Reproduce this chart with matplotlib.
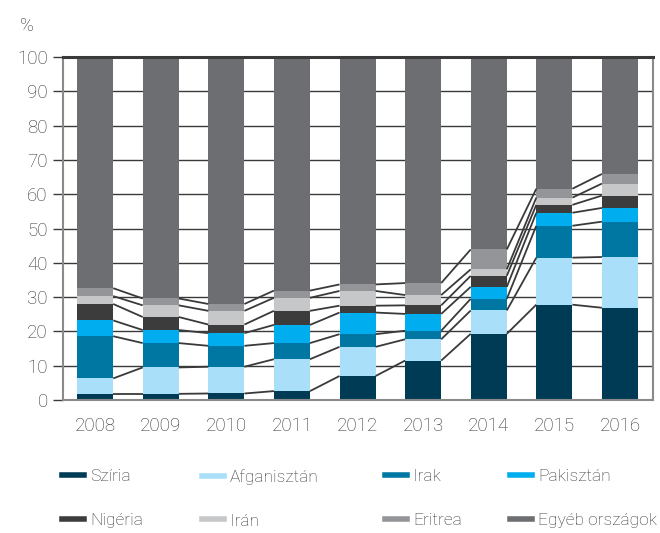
import numpy as np
import matplotlib
matplotlib.use("Agg")
import matplotlib.pyplot as plt
from matplotlib.lines import Line2D

plt.rcParams['font.family'] = ['Roboto', 'DejaVu Sans']

# ==============================================================================
# DATA (share in %, per country)
# ==============================================================================
years = ['2008', '2009', '2010', '2011', '2012', '2013', '2014', '2015', '2016']
countries = ['Szíria', 'Afganisztán', 'Irak', 'Pakisztán',
             'Nigéria', 'Irán', 'Eritrea', 'Egyéb országok']

sziria      = [1.8, 1.8, 1.9, 2.6, 7.0, 11.5, 19.3, 27.8, 26.9]
afganisztan = [4.5, 7.7, 7.8, 9.3, 8.5, 6.2, 6.8, 13.7, 14.8]
irak        = [12.3, 7.1, 6.1, 4.7, 3.7, 2.5, 3.4, 9.3, 10.3]
pakisztan   = [4.6, 3.8, 3.7, 5.3, 6.3, 4.9, 3.5, 3.8, 4.0]
nigeria     = [4.8, 3.8, 2.5, 4.1, 2.0, 2.5, 3.2, 2.3, 3.6]
iran        = [2.3, 3.4, 4.0, 3.8, 4.3, 3.0, 1.9, 2.1, 3.5]
eritrea     = [2.3, 2.0, 2.0, 2.1, 1.9, 3.5, 5.8, 2.6, 2.8]
egyeb       = [67.4, 70.4, 72.0, 68.1, 66.3, 65.9, 56.1, 38.4, 34.1]

colors = ['#003b55', '#a9dff8', '#0077a3', '#00aeef',
          '#3c3c3c', '#c6c7c8', '#939598', '#6d6e71']

series = [sziria, afganisztan, irak, pakisztan, nigeria, iran, eritrea, egyeb]
TXT = '#333333'

fig = plt.figure(figsize=(6.6, 5.33), dpi=100)
ax = fig.add_axes([0.0955, 0.2495, 0.8935, 0.6435])

x = np.arange(len(years))
width = 0.55
bottom = np.zeros(len(years))
tops = []
for vals, col, lab in zip(series, colors, countries):
    vals = np.array(vals)
    ax.bar(x, vals, width, bottom=bottom, color=col, label=lab, zorder=2,
           edgecolor='none')
    bottom = bottom + vals
    tops.append(bottom.copy())

# connecting lines between segment tops
for t in tops[:-1]:
    for i in range(len(years) - 1):
        ax.plot([x[i] + width / 2, x[i + 1] - width / 2], [t[i], t[i + 1]],
                color='#3a3a3a', lw=1.3, zorder=3, solid_capstyle='butt')

ax.set_xlim(-0.49, 8.5)
ax.set_ylim(0, 100)
ax.set_yticks(range(0, 101, 10))
ax.set_xticks(x)
ax.set_xticklabels(years)
ax.yaxis.grid(True, color='#3a3a3a', lw=1.0, zorder=0)
ax.axhline(100, color='#3a3a3a', lw=2.2, zorder=4, clip_on=False)
ax.set_axisbelow(True)

for s in ['left', 'bottom', 'right']:
    ax.spines[s].set_color('#8a8a8a')
    ax.spines[s].set_linewidth(1.5)
ax.spines['top'].set_visible(False)

ax.tick_params(axis='y', length=7, width=1.0, color='#3a3a3a', pad=4,
               labelsize=13.5, labelcolor=TXT)
ax.tick_params(axis='x', length=0, pad=12, labelsize=13.5, labelcolor=TXT)
for lbl in ax.get_yticklabels() + ax.get_xticklabels():
    lbl.set_fontweight('light')

fig.text(27 / 660, 1 - 26 / 533, '%', ha='center', va='center', fontsize=13.5,
         color=TXT, fontweight='light')

# legend: 4 columns, 2 rows
col_x = [62 / 660, 202 / 660, 385 / 660, 510 / 660]
for c in range(4):
    idx = [c, c + 4]
    handles = [Line2D([0], [0], color=colors[i], lw=4) for i in idx]
    labels = [countries[i] for i in idx]
    leg = fig.legend(handles, labels, loc='upper left',
                     bbox_to_anchor=(col_x[c], 1 - 469 / 533),
                     frameon=False, ncol=1, fontsize=12.5, handlelength=1.25,
                     handletextpad=0.35, labelspacing=1.65, borderaxespad=0,
                     borderpad=0)
    for t in leg.get_texts():
        t.set_color(TXT)
        t.set_fontweight('light')

fig.savefig('out.png', dpi=100)
